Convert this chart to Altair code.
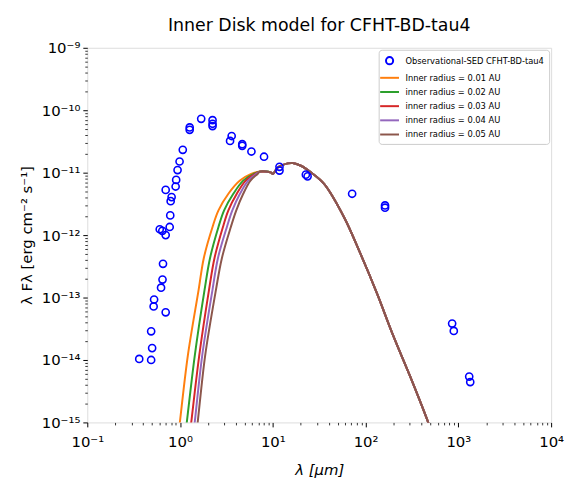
import altair as alt
import pandas as pd

# ---------------- data ----------------
obs_wave = [0.363, 0.488, 0.50, 0.488, 0.519, 0.525, 0.70, 0.624, 0.647, 0.655,
            0.604, 0.644, 0.70, 0.773, 0.784, 0.792, 0.811, 0.70, 0.896, 0.908,
            0.94, 0.988, 1.07, 1.27, 1.27, 1.69, 2.24, 2.24, 2.24, 3.6,
            3.46, 4.68, 4.68, 5.88, 8.04, 11.8, 11.8, 22.7, 23.7, 71.6,
            162, 162, 857, 893, 1309, 1343]
obs_flux = [1.04e-14, 1.0e-14, 1.55e-14, 2.88e-14, 7.2e-14, 9.3e-14, 5.8e-14, 1.44e-13, 1.94e-13, 3.47e-13,
            1.24e-12, 1.17e-12, 1.0e-12, 1.35e-12, 2.07e-12, 3.5e-12, 4.06e-12, 5.3e-12, 6.0e-12, 7.66e-12,
            1.1e-11, 1.51e-11, 2.32e-11, 5.3e-11, 4.85e-11, 7.28e-11, 6.93e-11, 6.07e-11, 5.57e-11, 3.86e-11,
            3.22e-11, 2.86e-11, 2.69e-11, 2.18e-11, 1.8e-11, 1.24e-11, 1.08e-11, 9.3e-12, 8.73e-12, 4.59e-12,
            2.99e-12, 2.75e-12, 3.83e-14, 2.92e-14, 5.43e-15, 4.43e-15]

# rising (Wien) side of each model, common flux levels
rise_flux = [4.6e-16, 1.0e-15, 1.155e-14, 1.34e-13, 4.31e-13, 1.35e-12, 2.49e-12, 4.59e-12, 7.46e-12, 9.55e-12, 1.04e-11]
wave_r001 = [0.936, 0.995, 1.211, 1.587, 1.804, 2.239, 2.595, 3.318, 4.423, 5.84, 7.284]
wave_r002 = [1.111, 1.182, 1.439, 1.839, 2.106, 2.595, 2.985, 3.751, 4.797, 6.209, 7.284]
wave_r003 = [1.241, 1.320, 1.607, 2.054, 2.352, 2.899, 3.318, 4.088, 5.101, 6.442, 7.284]
wave_r004 = [1.353, 1.439, 1.730, 2.239, 2.564, 3.198, 3.660, 4.423, 5.423, 6.635, 7.284]
wave_r005 = [1.457, 1.549, 1.862, 2.440, 2.828, 3.528, 4.038, 4.797, 5.740, 6.849, 7.284]
# common far-infrared side
tail_wave = [9.62, 10.0, 11.3, 14.5, 16.4, 20.1, 25.7, 35.7, 58.4, 87.7, 132, 199, 300, 471, 560]
tail_flux = [1.0e-11, 9.5e-12, 1.21e-11, 1.41e-11, 1.43e-11, 1.29e-11, 1.01e-11, 6.6e-12, 1.95e-12,
             5.1e-13, 1.19e-13, 2.43e-14, 5.6e-15, 1.02e-15, 5.0e-16]

names = ["Observational-SED CFHT-BD-tau4", "Inner radius = 0.01 AU", "inner radius = 0.02 AU",
         "inner radius = 0.03 AU", "inner radius = 0.04 AU", "inner radius = 0.05 AU"]
colors = ["#0000ff", "#ff7f0e", "#2ca02c", "#d62728", "#9467bd", "#8c564b"]

x_major = [0.1, 1, 10, 100, 1000, 10000]
y_major = [1e-15, 1e-14, 1e-13, 1e-12, 1e-11, 1e-10, 1e-9]

# ---------------- tables ----------------
obs_df = pd.DataFrame({"wave": obs_wave, "flux": obs_flux, "series": names[0]})
rows = []
for nm, w in zip(names[1:], [wave_r001, wave_r002, wave_r003, wave_r004, wave_r005]):
    for wv, fl in zip(list(w) + tail_wave, rise_flux + tail_flux):
        rows.append({"wave": wv, "flux": fl, "series": nm})
model_df = pd.DataFrame(rows)

x_minor = [k * 10.0 ** d for d in range(-1, 4) for k in range(2, 10)]
y_minor = [k * 10.0 ** d for d in range(-15, -9) for k in range(2, 10)]

FONT = "DejaVu Sans"
E = "abs(round(log(datum.value)/LN10))"
SUP = "['⁰','¹','²','³','⁴','⁵','⁶','⁷','⁸','⁹']"
label_expr = f"'10' + (datum.value < 1 ? '⁻' : '') + ({E} >= 10 ? '¹' + {SUP}[{E}-10] : {SUP}[{E}])"

xscale = alt.Scale(type="log", domain=[0.1, 1e4], nice=False)
yscale = alt.Scale(type="log", domain=[1e-15, 1e-9], nice=False)
color_scale = alt.Scale(domain=names, range=colors)
circle_path = "M-0.72,0A0.72,0.72 0 1,0 0.72,0A0.72,0.72 0 1,0 -0.72,0"
line_path = "M-1.9,0L1.9,0"
shape_scale = alt.Scale(domain=names, range=[circle_path] + [line_path] * 5)

x_axis = alt.Axis(values=x_major, labelExpr=label_expr, orient="bottom", tickSize=4.5, tickColor="black",
                  tickWidth=1, labelFont=FONT, labelFontSize=15, labelColor="black", labelPadding=8,
                  labelFlush=False, labelOverlap=False, grid=False, domain=False,
                  title="λ [μm]", titleFont=FONT, titleFontSize=15, titleFontWeight="normal",
                  titleFontStyle="italic", titleColor="black", titlePadding=13)
y_axis = alt.Axis(values=y_major, labelExpr=label_expr, orient="left", tickSize=4.5, tickColor="black",
                  tickWidth=1, labelFont=FONT, labelFontSize=15, labelColor="black", labelPadding=3,
                  labelFlush=False, labelOverlap=False, grid=False, domain=False,
                  title="λ Fλ [erg cm⁻² s⁻¹]", titleFont=FONT, titleFontSize=15, titleFontWeight="normal",
                  titleColor="black", titlePadding=7)
x_axis_minor = alt.Axis(values=x_minor, labels=False, orient="bottom", tickSize=2.5, tickColor="black",
                        tickWidth=0.8, grid=False, domain=False, title=None)
y_axis_minor = alt.Axis(values=y_minor, labels=False, orient="left", tickSize=2.5, tickColor="black",
                        tickWidth=0.8, grid=False, domain=False, title=None)

legend = alt.Legend(title=None, orient="top-right", offset=2, fillColor="white", strokeColor="#cccccc",
                    cornerRadius=3, padding=5, labelFont=FONT, labelFontSize=8.4,
                    labelColor="black", labelLimit=400, rowPadding=3.3, labelOffset=10,
                    symbolSize=100, symbolStrokeWidth=2, symbolOpacity=1)

lines = alt.Chart(model_df).mark_line(strokeWidth=2, clip=True, interpolate="catmull-rom").encode(
    x=alt.X("wave:Q", scale=xscale, axis=x_axis),
    y=alt.Y("flux:Q", scale=yscale, axis=y_axis),
    color=alt.Color("series:N", scale=color_scale, legend=legend),
)

points = alt.Chart(obs_df).mark_point(filled=False, strokeWidth=1.6, size=100, opacity=1, clip=True).encode(
    x=alt.X("wave:Q", scale=xscale, axis=x_axis),
    y=alt.Y("flux:Q", scale=yscale, axis=y_axis),
    color=alt.Color("series:N", scale=color_scale, legend=legend),
    shape=alt.Shape("series:N", scale=shape_scale, legend=legend),
)

minor = alt.Chart(obs_df).mark_point(opacity=0).encode(
    x=alt.X("wave:Q", scale=xscale, axis=x_axis_minor),
    y=alt.Y("flux:Q", scale=yscale, axis=y_axis_minor),
)

chart = alt.layer(alt.layer(lines, points), minor).resolve_axis(
    x="independent", y="independent"
).properties(
    width=468, height=378,
    title=alt.TitleParams("Inner Disk model for CFHT-BD-tau4", font=FONT, fontSize=17.5,
                          fontWeight="normal", color="black", offset=6, anchor="middle", frame="group"),
    autosize=alt.AutoSizeParams(type="none"),
    padding={"left": 80, "top": 38, "right": 14, "bottom": 62},
).configure_view(stroke="black", strokeWidth=1).configure_legend(
    strokeWidth=1
).configure(background="white")

chart.save("out.html", embed_options={"renderer": "svg", "actions": False})
